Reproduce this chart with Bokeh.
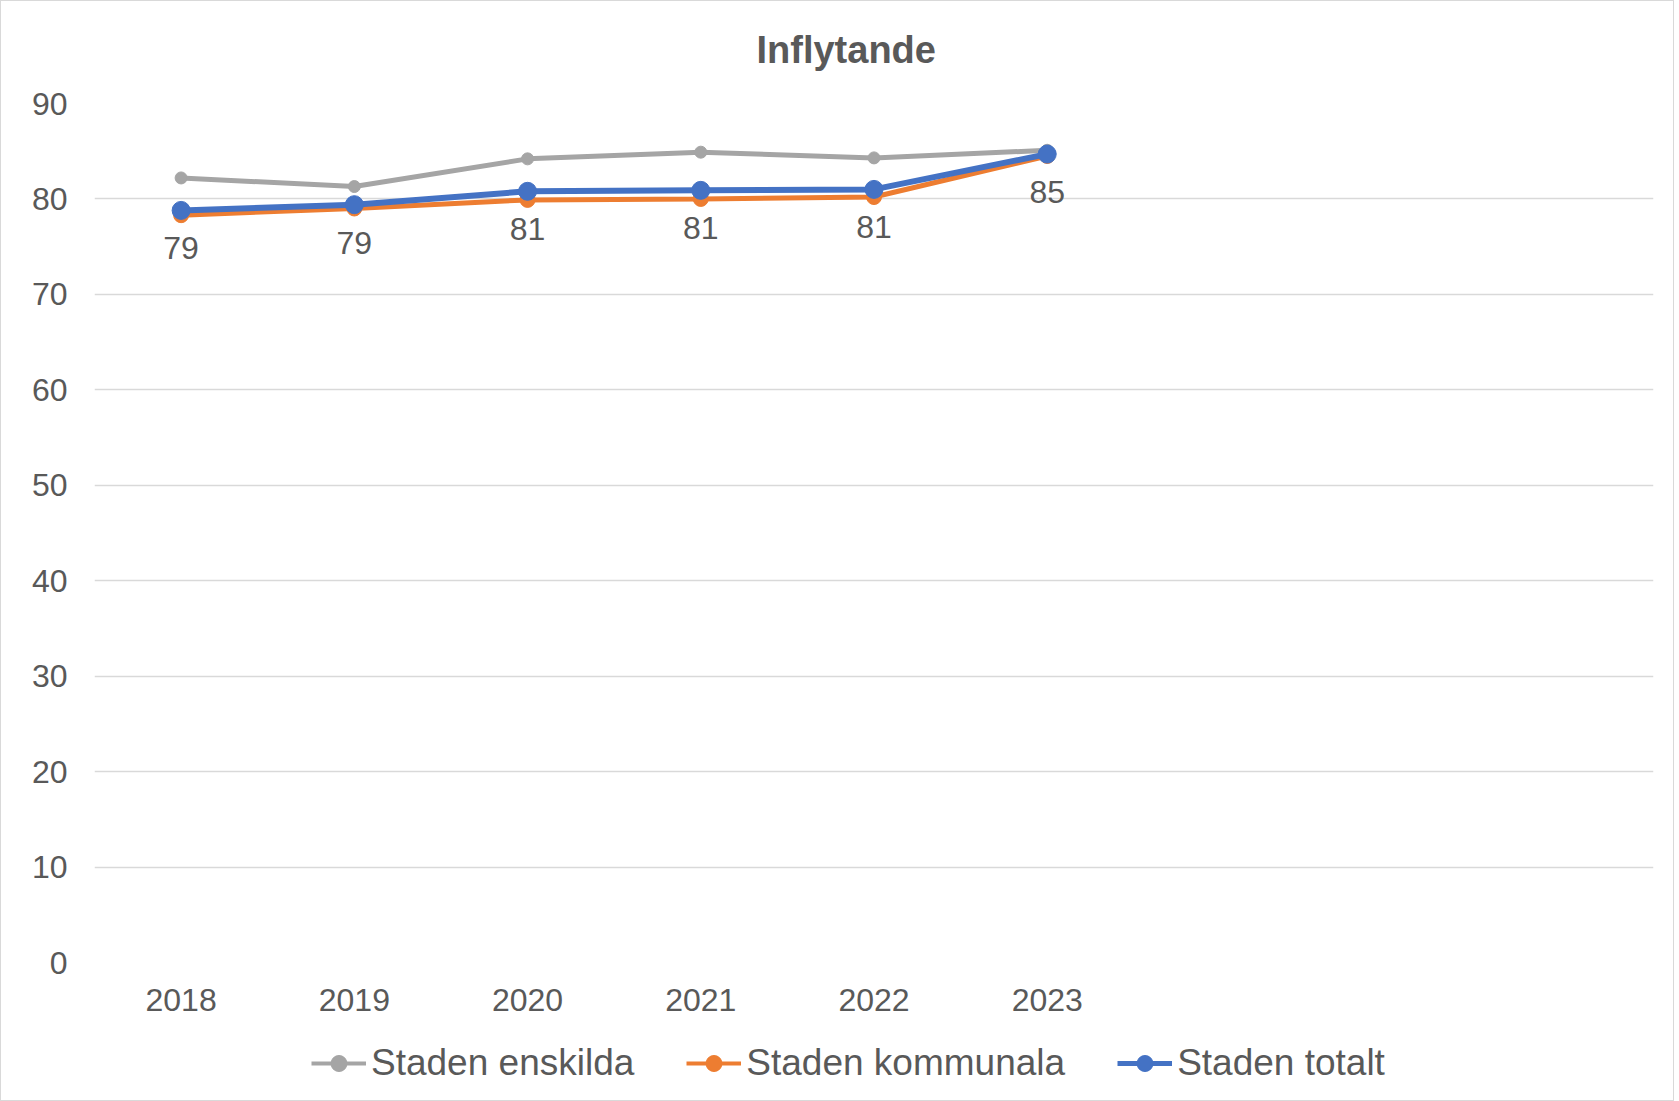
from bokeh.plotting import figure
from bokeh.layouts import column
from bokeh.models import (Range1d, FixedTicker, ColumnDataSource, LabelSet,
                          Legend, LegendItem)
from bokeh.core.properties import value
from bokeh.embed import file_html
from bokeh.resources import INLINE

# ---- data -------------------------------------------------------------
years = ["2018", "2019", "2020", "2021", "2022", "2023"]
n_slots = 9  # category slots on the x axis (last three are empty)
staden_enskilda = [82.2, 81.3, 84.2, 84.9, 84.3, 85.1]
staden_kommunala = [78.3, 79.0, 79.9, 80.0, 80.2, 84.5]
staden_totalt = [78.8, 79.4, 80.8, 80.9, 81.0, 84.7]
y_ticks = [0, 10, 20, 30, 40, 50, 60, 70, 80, 90]
title_text = "Inflytande"
series_names = ["Staden enskilda", "Staden kommunala", "Staden totalt"]

TEXT = "#595959"
FONT = "Liberation Sans"
GRAY, ORANGE, BLUE = "#A5A5A5", "#ED7D31", "#4472C4"
colors = [GRAY, ORANGE, BLUE]
line_widths = [5, 5, 6]
marker_sizes = [12, 15, 18]
cols = ["ens", "kom", "tot"]

xs = list(range(len(years)))
src = ColumnDataSource(dict(
    x=xs, year=years,
    ens=staden_enskilda, kom=staden_kommunala, tot=staden_totalt,
    lbl=[f"{v:.0f}" for v in staden_totalt],
))

W = 1672
x_range = Range1d(-0.5, n_slots - 0.5)

# ---- title strip ---------------------------------------------------------
tf = figure(width=W, height=80, output_backend="svg", toolbar_location=None,
            x_range=x_range, y_range=Range1d(0, 1),
            x_axis_type=None, y_axis_type=None, min_border=0,
            min_border_left=93, min_border_right=20, min_border_top=69,
            min_border_bottom=0)
tf.outline_line_color = None
tf.grid.visible = False
tf.border_fill_color = "white"
tf.title.text = title_text
tf.title.align = "left"
tf.title.offset = 662
tf.title.text_font = FONT
tf.title.text_font_size = "38px"
tf.title.text_font_style = "bold"
tf.title.text_color = TEXT
tf.title.standoff = 0

# ---- main chart ----------------------------------------------------------
p = figure(width=W, height=950, output_backend="svg", toolbar_location=None,
           x_range=x_range, y_range=Range1d(0, 90), title_location=None,
           min_border_left=93, min_border_right=20, min_border_top=22,
           min_border_bottom=69)
p.outline_line_color = None
p.background_fill_color = "white"
p.border_fill_color = "white"

p.xaxis.ticker = FixedTicker(ticks=xs)
p.xaxis.major_label_overrides = {i: y for i, y in zip(xs, years)}
p.yaxis.ticker = FixedTicker(ticks=y_ticks)
for ax in (p.xaxis, p.yaxis):
    ax.axis_line_color = None
    ax.major_tick_line_color = None
    ax.minor_tick_line_color = None
    ax.major_label_text_font = FONT
    ax.major_label_text_font_size = "32px"
    ax.major_label_text_color = TEXT
p.xaxis.major_label_standoff = 20
p.yaxis.major_label_standoff = 21
p.xgrid.grid_line_color = None
p.ygrid.grid_line_color = "#D9D9D9"
p.ygrid.grid_line_width = 1.5

for col, c, lw, ms in zip(cols, colors, line_widths, marker_sizes):
    p.line("x", col, source=src, color=c, line_width=lw)
    p.scatter("x", col, source=src, color=c, size=ms)

labels = LabelSet(x="x", y="tot", text="lbl", source=src, y_offset=-38,
                  text_align="center", text_baseline="middle",
                  text_font=value(FONT), text_font_size=value("32px"),
                  text_color=TEXT)
p.add_layout(labels)

# ---- legend strip below the chart ----------------------------------------
# (same series drawn again, outside this strip's visible range, so only
#  their legend glyphs show)
lf = figure(width=W, height=69, output_backend="svg", toolbar_location=None,
            x_range=Range1d(-0.5, n_slots - 0.5), y_range=Range1d(0, 1),
            x_axis_type=None, y_axis_type=None, min_border=0,
            min_border_left=93, min_border_right=20)
lf.outline_line_color = None
lf.grid.visible = False
lf.border_fill_color = "white"
items = []
for name, col, c, lw, ms in zip(series_names, cols, colors, line_widths, marker_sizes):
    lr = lf.line("x", col, source=src, color=c, line_width=lw - 1)
    sr = lf.scatter("x", col, source=src, color=c, size=ms - 4)
    items.append(LegendItem(label=name, renderers=[lr, sr]))
legend = Legend(items=items, orientation="horizontal", location=(217, 16))
legend.glyph_width = 55
legend.glyph_height = 40
legend.label_standoff = 5
legend.spacing = 52
legend.padding = 0
legend.margin = 0
legend.border_line_color = None
legend.background_fill_alpha = 0
legend.label_text_font = FONT
legend.label_text_font_size = "37px"
legend.label_text_color = TEXT
lf.add_layout(legend)

layout = column(tf, p, lf, spacing=0)
layout.styles = {"border": "1px solid #D9D9D9", "box-sizing": "border-box"}

open("out.html", "w").write(file_html(layout, INLINE))
